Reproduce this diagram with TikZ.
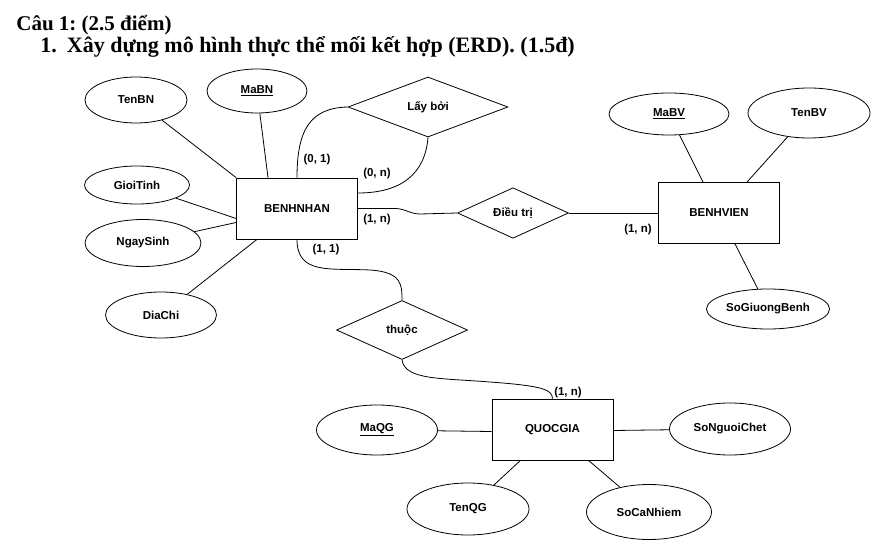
\documentclass[tikz,border=0pt]{standalone}
\usepackage{fontspec}
\setmainfont{Liberation Serif}
\setsansfont{Liberation Sans}
\usetikzlibrary{shapes.geometric}
\frenchspacing

\begin{document}
\begin{tikzpicture}
  [x=1pt, y=-1pt, line width=0.8pt,
   every node/.style={font=\sffamily\bfseries\fontsize{11.5}{13}\selectfont, inner sep=0pt},
   entity/.style={draw, rectangle, minimum width=121pt, minimum height=61pt},
   attr/.style={draw, ellipse},
   rel/.style={draw, diamond},
   card/.style={font=\sffamily\bfseries\fontsize{11.5}{13}\selectfont},
   heading/.style={font=\rmfamily\bfseries\fontsize{21}{24}\selectfont, anchor=base west}]
  \useasboundingbox (0,0) rectangle (891,545);

  % headings
  \node[heading] (h1) at (16,31) {Câu 1: (2.5 điểm)};
  \node[heading, font=\rmfamily\bfseries\fontsize{22}{24}\selectfont] (h2) at (40,53)
    {1.\hspace{10pt}Xây dựng mô hình thực thể mối kết hợp (ERD). (1.5đ)};

  % entities
  \node[entity] (BN) at (297,208.5) {BENHNHAN};
  \node[entity] (BV) at (719,213) {BENHVIEN};
  \node[entity] (QG) at (552.5,429.5) {QUOCGIA};

  % relationships
  \node[rel, minimum width=160pt, minimum height=60pt] (LB) at (428,107) {Lấy bởi};
  \node[rel, minimum width=111pt, minimum height=50pt] (DT) at (513,213) {Điều trị};
  \node[rel, minimum width=131pt, minimum height=59pt] (TH) at (402,330) {thuộc};

  % attributes of BENHNHAN
  \node[attr, minimum width=102pt, minimum height=46pt] (TenBN) at (136,100) {TenBN};
  \node[attr, minimum width=100pt, minimum height=44pt] (MaBN) at (257,91) {\underline{MaBN}};
  \node[attr, minimum width=105pt, minimum height=38pt] (GioiTinh) at (137,185) {GioiTinh};
  \node[attr, minimum width=116pt, minimum height=47pt] (NgaySinh) at (143,243) {NgaySinh};
  \node[attr, minimum width=111pt, minimum height=46pt] (DiaChi) at (161,315) {DiaChi};

  % attributes of BENHVIEN
  \node[attr, minimum width=120pt, minimum height=42pt] (MaBV) at (669,114) {\underline{MaBV}};
  \node[attr, minimum width=122pt, minimum height=50pt] (TenBV) at (809,113) {TenBV};
  \node[attr, minimum width=123pt, minimum height=40pt] (SoGiuong) at (768,309) {SoGiuongBenh};

  % attributes of QUOCGIA
  \node[attr, minimum width=121pt, minimum height=50pt] (MaQG) at (377,430) {\underline{MaQG}};
  \node[attr, minimum width=121pt, minimum height=52pt] (SoNguoiChet) at (730,429) {SoNguoiChet};
  \node[attr, minimum width=122pt, minimum height=52pt] (TenQG) at (468,509) {TenQG};
  \node[attr, minimum width=125pt, minimum height=55pt] (SoCaNhiem) at (649,512) {SoCaNhiem};

  % attribute links
  \draw (TenBN) -- (BN.north west);
  \draw (MaBN) -- ([xshift=-29pt]BN.north);
  \draw (GioiTinh) -- ([yshift=-10pt]BN.west);
  \draw (NgaySinh) -- ([yshift=-14pt]BN.west);
  \draw (DiaChi) -- ([xshift=-40pt]BN.south);
  \draw (MaBV) -- ([xshift=-16pt]BV.north);
  \draw (TenBV) -- ([xshift=28pt]BV.north);
  \draw ([xshift=16pt]BV.south) -- (SoGiuong);
  \draw (MaQG) -- ([yshift=-2pt]QG.west);
  \draw ([yshift=-1pt]QG.east) -- (SoNguoiChet);
  \draw ([xshift=-32pt]QG.south) -- (TenQG);
  \draw ([xshift=36pt]QG.south) -- (SoCaNhiem);

  % relationship links
  \draw (BN.north) .. controls (297,130) and (310,108) .. (LB.west);
  \draw (LB.south) .. controls (425,175) and (400,193) .. ([yshift=15.5pt]BN.east);
  \draw (BN.east) -- (395,208.5) .. controls (405,208.5) and (410,214) .. (420,214) -- (DT.west);
  \draw (DT.east) -- (BV.west);
  \draw (BN.south) .. controls (297,275) and (330,268) .. (370,270)
                   .. controls (402,272) and (402,285) .. (TH.north);
  \draw (TH.south) .. controls (405,380) and (440,378) .. (490,382)
                   .. controls (545,386) and (552,390) .. (QG.north);

  % cardinalities
  \node[card] (c1) at (317,160) {(0, 1)};
  \node[card] (c2) at (377,174) {(0, n)};
  \node[card] (c3) at (377,220) {(1, n)};
  \node[card] (c4) at (326,250) {(1, 1)};
  \node[card] (c5) at (638,230) {(1, n)};
  \node[card] (c6) at (568,393) {(1, n)};
\end{tikzpicture}
\end{document}
